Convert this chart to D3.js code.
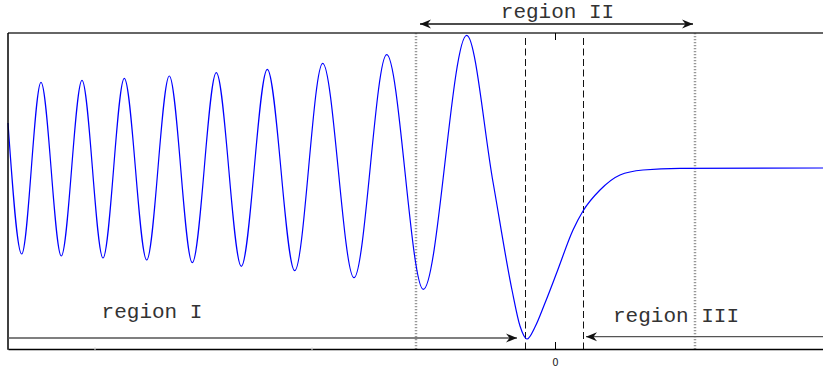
<!DOCTYPE html>
<html>
<head>
<meta charset="utf-8">
<script src="https://cdn.jsdelivr.net/npm/d3@7"></script>
<style>
  body { margin: 0; background: #fff; }
  svg { display: block; }
</style>
</head>
<body>
<div id="chart"></div>
<script>
// curve: extrema plus a few points on the steep parts
var waveX = [-5.47, -5.333, -5.14, -4.937, -4.73, -4.52, -4.307, -4.083, -3.857, -3.627,
             -3.387, -3.137, -2.877, -2.603, -2.323, -2.01, -1.683, -1.317, -0.883,
             -0.62, -0.43, -0.35, -0.28, -0.20, -0.10, 0.02, 0.18, 0.28, 0.45, 0.65, 0.88, 1.25, 2.75]
var waveY = [0.45, -0.86, 0.857, -0.88, 0.877, -0.90, 0.897, -0.92, 0.92, -0.947,
             0.953, -0.983, 0.987, -1.027, 1.047, -1.097, 1.133, -1.213, 1.327,
             -0.14, -1.22, -1.58, -1.71, -1.59, -1.35, -1.04, -0.62, -0.43, -0.22, -0.07, -0.02, -0.003, 0]

var dottedLines = [-1.39, 1.40]   // region II limits
var dashedLines = [-0.30, 0.28]   // turning points
var xTicks = [0]
var faintTicks = [-4.6, -2.43]

var regions = [
  {name: "region I",   from: -5.47, to: -0.38, y: -1.70, labelX: -4.03, labelY: -1.50},
  {name: "region II",  from: -1.35, to: 1.38,  y: 1.44,  labelX: 0.025, labelY: 1.50},
  {name: "region III", from: 2.75,  to: 0.31,  y: -1.687, labelX: 1.21, labelY: -1.537}
]

var width = 823
var height = 371
var mLeft = 8, mRight = 830, mTop = 33, mBottom = 349

var x = d3.scaleLinear().domain([-5.47, 2.75]).range([mLeft, mRight])
var y = d3.scaleLinear().domain([-1.81, 1.35]).range([mBottom, mTop])

// snap thin vertical lines onto the pixel grid
var px = d => Math.round(x(d)) + 0.5

var svg = d3.select("#chart")
  .append("svg")
    .attr("width", width)
    .attr("height", height)

var defs = svg.append("defs")
defs.append("marker")
    .attr("id", "head")
    .attr("viewBox", "0 -5 12 10")
    .attr("refX", 11)
    .attr("refY", 0)
    .attr("markerUnits", "userSpaceOnUse")
    .attr("markerWidth", 12)
    .attr("markerHeight", 10)
    .attr("orient", "auto-start-reverse")
  .append("path")
    .attr("d", "M0,-4.5L11,0L0,4.5L3.5,0Z")
    .attr("fill", "#111")

// vertical guide lines
svg.append("g")
  .selectAll("line")
  .data(dottedLines)
  .enter().append("line")
    .attr("x1", d => x(d)).attr("x2", d => x(d))
    .attr("y1", mTop).attr("y2", mBottom)
    .attr("stroke", "#999")
    .attr("stroke-width", 2.5)
    .attr("stroke-dasharray", "1.2,1.8")

svg.append("g")
  .selectAll("line")
  .data(dashedLines)
  .enter().append("line")
    .attr("x1", px).attr("x2", px)
    .attr("y1", mTop + 5).attr("y2", mBottom)
    .attr("stroke", "#111")
    .attr("stroke-width", 1)
    .attr("stroke-dasharray", "7,3.5")

// the wave
var line = d3.line()
  .curve(d3.curveMonotoneX)
  .x(function(d, i) { return x(waveX[i]) })
  .y(function(d, i) { return y(waveY[i]) })

svg.append("path")
  .attr("d", line(waveX))
  .attr("fill", "none")
  .attr("stroke", "#0000ff")
  .attr("stroke-width", 1.2)

// frame
svg.append("line")
  .attr("x1", mLeft).attr("x2", mRight).attr("y1", mTop).attr("y2", mTop)
  .attr("stroke", "#333").attr("stroke-width", 1.5)
svg.append("line")
  .attr("x1", mLeft).attr("x2", mLeft).attr("y1", mTop).attr("y2", mBottom + 0.7)
  .attr("stroke", "#000").attr("stroke-width", 1.5)

var xAxis = svg.append("g")
  .attr("transform", "translate(0," + mBottom + ")")
  .call(d3.axisBottom(x).tickValues(xTicks).tickSize(0).tickPadding(10))
xAxis.select(".domain").attr("stroke", "#000").attr("stroke-width", 1.5)
xAxis.selectAll("text")
  .attr("font-family", "DejaVu Sans")
  .attr("font-size", 10)
  .attr("fill", "#222")

// inner tick marks, bottom and top
svg.append("g")
  .selectAll("line")
  .data(xTicks)
  .enter().append("line")
    .attr("x1", px).attr("x2", px)
    .attr("y1", mBottom).attr("y2", mBottom - 7)
    .attr("stroke", "#000")
svg.append("g")
  .selectAll("line")
  .data(xTicks)
  .enter().append("line")
    .attr("x1", px).attr("x2", px)
    .attr("y1", mTop).attr("y2", mTop + 7)
    .attr("stroke", "#000")
svg.append("g")
  .selectAll("line")
  .data(faintTicks)
  .enter().append("line")
    .attr("x1", d => x(d)).attr("x2", d => x(d))
    .attr("y1", mBottom + 1).attr("y2", mBottom - 2)
    .attr("stroke", "#ddd")

// region arrows and labels
svg.append("g")
  .selectAll("line")
  .data(regions)
  .enter().append("line")
    .attr("x1", d => x(d.from)).attr("x2", d => x(d.to))
    .attr("y1", d => y(d.y)).attr("y2", d => y(d.y))
    .attr("stroke", d => d.name == "region II" ? "#111" : "#555")
    .attr("stroke-width", 1.3)
    .attr("marker-start", d => d.name == "region II" ? "url(#head)" : null)
    .attr("marker-end", "url(#head)")

svg.append("g")
  .selectAll("text")
  .data(regions)
  .enter().append("text")
    .attr("x", d => x(d.labelX))
    .attr("y", d => y(d.labelY))
    .attr("text-anchor", "middle")
    .attr("font-family", "Liberation Mono, Courier New, monospace")
    .attr("font-size", 21)
    .attr("fill", "#333")
    .text(d => d.name)
</script>
</body>
</html>
